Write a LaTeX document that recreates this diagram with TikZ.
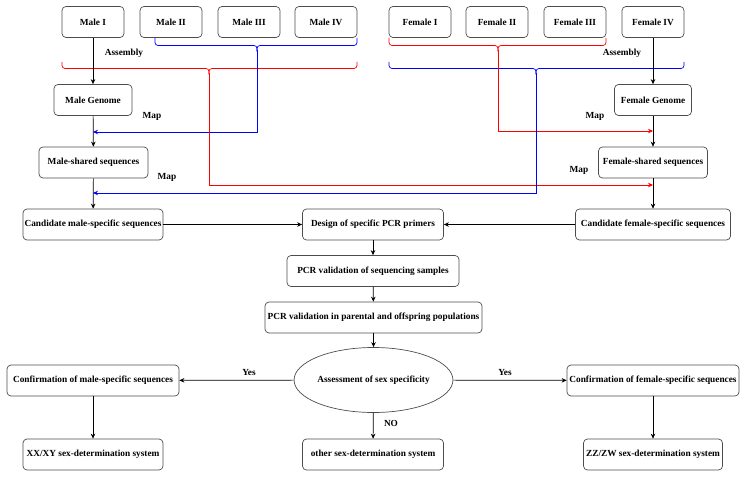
\documentclass[tikz,border=0pt]{standalone}
\usepackage{fontspec}
\setmainfont{Liberation Serif}
\usetikzlibrary{arrows.meta}
\usetikzlibrary{shapes.geometric}
\usetikzlibrary{calc}
\def\fs{\fontsize{9.3}{11}\selectfont\bfseries}

\begin{document}
\begin{tikzpicture}[x=1pt, y=-1pt]
	\tikzstyle{box}  = [draw=black!70, rounded corners=4pt, line width=0.7pt, inner sep=0pt, minimum height=31pt, font=\fs]
	\tikzstyle{lbl}  = [inner sep=0pt, font=\fs]
	\tikzstyle{flow} = [-{Stealth[length=5pt, width=4.5pt]}, line width=0.7pt]
	\tikzstyle{brace} = [rounded corners=3pt, line width=0.7pt]
	\useasboundingbox (0,0) rectangle (746,478);

	%% samples
	\node [box, minimum width=62pt](m1) at (93, 22) {Male I};
	\node [box, minimum width=62pt](m2) at (171, 22) {Male II};
	\node [box, minimum width=62pt](m3) at (249, 22) {Male III};
	\node [box, minimum width=62pt](m4) at (326, 22) {Male IV};
	\node [box, minimum width=62pt](f1) at (420, 22) {Female I};
	\node [box, minimum width=62pt](f2) at (497, 22) {Female II};
	\node [box, minimum width=62pt](f3) at (575, 22) {Female III};
	\node [box, minimum width=62pt](f4) at (653, 22) {Female IV};

	%% genomes and shared sequences
	\node [box, minimum width=78pt](mg) at (93, 100) {Male Genome};
	\node [box, minimum width=109pt](ms) at (93.5, 162.5) {Male-shared sequences};
	\node [box, minimum width=77pt](fg) at (653, 100) {Female Genome};
	\node [box, minimum width=109pt](fsh) at (653, 162.5) {Female-shared sequences};

	%% candidates and PCR
	\node [box, minimum width=140pt](cm) at (93, 224.5) {Candidate male-specific sequences};
	\node [box, minimum width=155pt](cf) at (653, 224.5) {Candidate female-specific sequences};
	\node [box, minimum width=141pt](design) at (373, 224.5) {Design of specific PCR primers};
	\node [box, minimum width=172pt](pcra) at (373, 271) {PCR validation of sequencing samples};
	\node [box, minimum width=217pt](pcrb) at (373.5, 317.5) {PCR validation in parental and offspring populations};
	\node [draw=black!70, line width=0.7pt, ellipse, inner sep=0pt, minimum width=125pt, minimum height=65pt, font=\fs](assess) at (373.5, 380) {Assessment of sex specificity};

	%% results
	\node [box, minimum width=172pt](confm) at (93, 380.5) {Confirmation of male-specific sequences};
	\node [box, minimum width=172pt](conff) at (653, 380.5) {Confirmation of female-specific sequences};
	\node [box, minimum width=140pt](xy) at (93, 454.5) {XX/XY sex-determination system};
	\node [box, minimum width=141pt](other) at (373, 454.5) {other sex-determination system};
	\node [box, minimum width=139pt](zw) at (653, 454.5) {ZZ/ZW sex-determination system};

	%% brace ends and map targets
	\coordinate (bm1) at (155, 38);
	\coordinate (bm2) at (357, 38);
	\coordinate (bmtip) at (257, 45.5);
	\coordinate (rm1) at (62, 62);
	\coordinate (rm2) at (357, 62);
	\coordinate (rmtip) at (209, 68.5);
	\coordinate (rf1) at (389, 38);
	\coordinate (rf2) at (606, 38);
	\coordinate (rftip) at (498, 45.5);
	\coordinate (bf1) at (389, 62);
	\coordinate (bf2) at (684, 62);
	\coordinate (bftip) at (536, 68.5);
	\coordinate (mmap1) at (93, 132);
	\coordinate (mmap2) at (93, 193);
	\coordinate (fmap1) at (653, 131);
	\coordinate (fmap2) at (653, 185);

	%%Braces
	\draw[blue, brace] (bm1) |- (bmtip) -- ++(0, 6);
	\draw[blue, brace] (bm2) |- (bmtip) -- ++(0, 6);
	\draw[red, brace] (rm1) |- (rmtip) -- ++(0, 6);
	\draw[red, brace] (rm2) |- (rmtip) -- ++(0, 6);
	\draw[red, brace] (rf1) |- (rftip) -- ++(0, 6);
	\draw[red, brace] (rf2) |- (rftip) -- ++(0, 6);
	\draw[blue, brace] (bf1) |- (bftip) -- ++(0, 6);
	\draw[blue, brace] (bf2) |- (bftip) -- ++(0, 6);

	%%Map lines
	\draw[blue, flow] ($(bmtip) + (0, 5)$) |- (mmap1);
	\draw[red, flow] ($(rmtip) + (0, 5)$) |- (fmap2);
	\draw[red, flow] ($(rftip) + (0, 5)$) |- (fmap1);
	\draw[blue, flow] ($(bftip) + (0, 5)$) |- (mmap2);

	%%Main flow
	\draw[flow] (m1)--(mg);
	\draw[flow] (mg)--(ms);
	\draw[flow] (ms)--(cm);
	\draw[flow] (f4)--(fg);
	\draw[flow] (fg)--(fsh);
	\draw[flow] (fsh)--(cf);
	\draw[flow] (cm)--(design);
	\draw[flow] (cf)--(design);
	\draw[flow] (design)--(pcra);
	\draw[flow] (pcra)--(pcrb);
	\draw[flow] (pcrb)--(assess);
	\draw[flow] (assess)--(confm);
	\draw[flow] (assess)--(conff);
	\draw[flow] (assess)--(other);
	\draw[flow] (confm)--(xy);
	\draw[flow] (conff)--(zw);

	%%Labels
	\node [lbl](la1) at (124, 53) {Assembly};
	\node [lbl](la2) at (622, 53) {Assembly};
	\node [lbl](lm1) at (152, 116) {Map};
	\node [lbl](lm2) at (167, 177) {Map};
	\node [lbl](lm3) at (595, 116) {Map};
	\node [lbl](lm4) at (579, 170) {Map};
	\node [lbl](ly1) at (249, 372) {Yes};
	\node [lbl](ly2) at (505, 372) {Yes};
	\node [lbl](lno) at (391, 423) {NO};
\end{tikzpicture}
\end{document}
